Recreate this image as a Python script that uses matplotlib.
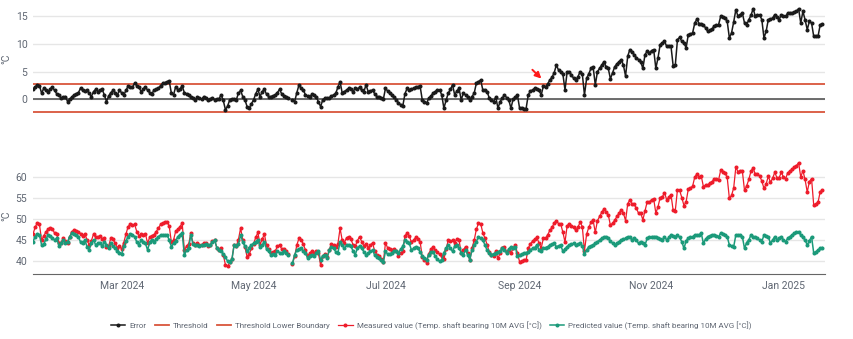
import numpy as np
import pandas as pd
import matplotlib
matplotlib.use('Agg')
import matplotlib.pyplot as plt
import matplotlib.dates as mdates

plt.rcParams['font.family'] = ['Roboto', 'DejaVu Sans']

# daily values, 2024-01-20 .. 2025-01-19
dates = pd.date_range('2024-01-20', periods=366, freq='D')

predicted = np.array([
    44.6, 45.8, 46.5, 46.2, 43.8, 44.0, 45.2, 46.2, 45.9, 45.5,
    45.0, 45.4, 43.6, 44.2, 45.0, 44.3, 44.6, 45.8, 46.6, 46.5,
    46.2, 45.8, 44.5, 44.3, 45.0, 43.4, 42.7, 44.3, 45.0, 43.8,
    44.2, 44.4, 43.5, 44.6, 43.8, 43.0, 44.2, 43.6, 43.0, 42.4,
    42.0, 41.6, 43.6, 44.8, 45.8, 46.4, 46.3, 45.8, 44.5, 43.8,
    45.0, 44.5, 44.2, 42.6, 44.5, 45.0, 44.6, 45.2, 45.8, 46.2,
    46.2, 46.2, 46.2, 45.0, 43.4, 44.2, 44.8, 45.8, 46.3, 46.6,
    41.4, 42.5, 43.2, 46.2, 44.0, 43.8, 43.9, 43.6, 43.9, 43.8,
    44.0, 43.7, 43.8, 44.5, 45.0, 43.2, 42.6, 42.3, 41.6, 41.0,
    39.9, 39.8, 40.4, 43.8, 43.6, 44.0, 46.2, 44.6, 43.5, 42.3,
    43.2, 43.8, 44.2, 44.6, 45.0, 43.4, 43.8, 44.6, 42.8, 42.3,
    41.5, 41.6, 41.5, 42.3, 42.0, 41.9, 42.3, 41.8, 41.5, np.nan,
    39.5, 41.5, 42.6, 42.8, 43.0, 42.3, 41.8, 40.7, 41.3, 41.5,
    41.1, 41.8, 42.3, 40.3, 41.2, 41.5, 40.7, 42.5, 43.4, 43.0,
    42.2, 41.9, 44.6, 43.8, 43.0, 43.8, 43.8, 43.5, 42.4, 41.5,
    43.0, 43.6, 43.0, 42.2, 41.5, 41.8, 42.3, 42.6, 41.4, 41.0,
    40.7, 40.2, 39.7, 42.3, 41.6, 41.7, 41.9, 42.4, 42.4, 41.9,
    42.8, 43.5, 45.0, 44.6, 44.2, 42.6, 43.0, 43.4, 43.0, 42.2,
    41.1, 40.6, 40.3, 41.5, 42.2, 42.2, 41.1, 40.4, 39.9, 40.3,
    42.0, 43.0, 43.8, 43.0, 42.3, 43.5, 43.8, 43.0, 42.0, 41.5,
    42.6, 41.5, 40.3, 42.6, 43.8, 44.6, 45.8, 45.4, 45.0, 43.8,
    42.5, 41.9, 41.5, 41.7, 41.9, 42.2, 42.3, 43.0, 42.6, 41.9,
    42.8, 43.4, 43.0, 43.4, 41.1, 41.4, 41.6, 41.9, 41.9, 42.2,
    42.6, 43.0, 43.2, 43.8, 42.6, 42.3, 43.0, 43.2, 43.4, 43.8,
    44.0, 44.2, 43.4, 43.6, 43.8, 42.3, 42.8, 43.4, 43.8, 44.0,
    44.2, 43.8, 44.0, 44.2, 43.6, 41.6, 42.6, 43.4, 43.6, 43.8,
    44.2, 44.6, 45.0, 45.4, 45.6, 45.8, 45.4, 44.8, 44.2, 43.8,
    44.2, 44.6, 45.0, 45.2, 45.4, 45.8, 45.6, 45.0, 45.4, 45.0,
    44.2, 44.6, 44.2, 43.8, 45.4, 45.6, 45.8, 45.8, 45.8, 45.4,
    45.2, 45.0, 45.8, 45.0, 45.6, 46.2, 46.0, 45.8, 46.2, 45.6,
    44.6, 43.0, 44.8, 45.4, 45.6, 45.8, 46.2, 46.2, 46.2, 46.6,
    44.2, 45.2, 45.8, 46.0, 46.2, 46.2, 46.0, 45.8, 46.6, 46.4,
    46.2, 45.8, 43.8, 43.6, 43.4, 46.2, 46.2, 46.2, 45.8, 43.0,
    44.4, 45.0, 46.2, 45.8, 45.6, 45.4, 45.0, 44.6, 46.2, 46.0,
    45.8, 44.2, 45.0, 45.8, 45.0, 45.4, 45.8, 45.0, 44.6, 45.4,
    45.8, 46.2, 46.6, 46.8, 47.0, 46.2, 45.6, 45.0, 43.8, 44.8,
    45.8, 41.9, 42.2, 42.6, 43.0, 43.2,
])

error = np.array([
    1.8, 2.2, 2.6, 2.5, 1.1, 2.0, 1.7, 1.4, 1.9, 2.2,
    1.6, 1.0, 0.8, 0.2, 0.4, 0.5, -0.4, 0.0, 0.4, 0.8,
    1.0, 1.2, 2.0, 1.7, 1.5, 1.6, 1.1, 0.5, 1.4, 1.8,
    1.4, 1.6, 1.8, 0.8, -0.4, 0.6, 1.2, 1.6, 1.2, 0.8,
    1.6, 1.2, 0.8, 1.6, 2.4, 2.3, 2.2, 2.9, 2.5, 2.2,
    1.4, 1.8, 2.3, 1.6, 1.2, 1.0, 1.7, 1.8, 2.0, 2.5,
    2.9, 3.0, 3.2, 3.3, 1.1, 0.8, 2.3, 1.7, 1.9, 2.4,
    1.2, 1.0, 0.8, 0.4, 0.2, -0.1, 0.4, 0.2, 0.0, 0.5,
    0.3, -0.1, 0.1, 0.2, -0.1, 0.0, 0.1, 0.8, -0.2, -1.9,
    -1.2, -0.1, 0.0, 0.1, -0.1, 1.1, 1.6, 0.5, -0.1, -1.3,
    -1.6, -0.8, -0.1, 1.0, 1.8, 0.5, 1.4, 1.8, 0.9, 0.5,
    0.5, 0.6, 0.8, 1.2, 1.8, 1.0, 0.6, 0.5, 0.2, np.nan,
    -0.1, -0.4, 1.2, 2.6, 2.0, 1.7, 0.8, 0.6, 0.5, 0.9,
    0.7, 0.5, -0.5, -1.3, -0.1, 0.2, 0.2, 0.2, 0.6, 0.8,
    1.1, 2.2, 3.2, 1.1, 1.4, 1.7, 2.0, 1.8, 1.4, 2.0,
    1.8, 2.2, 1.6, 1.4, 2.6, 1.4, 1.5, 1.7, 1.0, 0.5,
    0.5, 0.3, 0.0, 2.0, 1.5, 1.1, 0.8, 0.4, -0.1, -0.6,
    -1.0, -1.2, 1.0, 2.0, 1.7, 1.9, 2.0, 2.2, 2.3, 2.4,
    -0.1, -0.4, -0.7, 0.2, 0.6, 1.1, 1.4, 1.7, 1.7, 0.8,
    -1.6, -0.2, 1.1, 1.8, 2.6, 0.8, 1.5, 2.0, -0.1, 1.1,
    0.8, 0.5, -0.1, 0.5, 1.1, 2.9, 3.2, 3.5, 1.7, 1.6,
    1.4, 0.2, -0.1, -0.4, 0.4, -1.6, -0.4, 0.2, 0.8, 0.3,
    -0.1, -1.6, 0.0, 0.4, 0.8, -1.6, -1.6, -1.7, -1.7, 0.8,
    1.5, 1.7, 2.0, 1.8, 1.6, 0.8, 2.4, 2.3, 2.8, 3.5,
    4.0, 4.8, 6.2, 5.3, 5.0, 4.6, 1.7, 5.0, 5.0, 4.4,
    3.8, 3.5, 4.1, 5.0, 4.6, 0.8, 3.8, 4.6, 5.6, 5.9,
    2.6, 5.0, 5.6, 6.2, 6.8, 5.9, 5.6, 3.7, 4.8, 5.9,
    6.4, 6.8, 7.2, 6.2, 4.2, 7.8, 9.0, 8.5, 8.1, 7.5,
    7.2, 6.8, 5.6, 8.1, 8.7, 8.4, 8.8, 9.0, 5.6, 7.5,
    9.9, 10.2, 10.5, 9.6, 9.6, 9.6, 6.1, 6.2, 10.8, 11.2,
    10.5, 10.2, 9.3, 11.7, 11.8, 12.0, 13.8, 14.5, 13.7, 13.6,
    13.5, 12.9, 12.3, 12.5, 12.7, 13.3, 13.4, 13.5, 15.0, 14.8,
    14.7, 14.1, 11.1, 12.0, 14.0, 16.2, 15.0, 15.3, 15.6, 13.8,
    13.5, 14.4, 15.2, 16.4, 15.0, 15.2, 15.3, 14.4, 11.1, 12.3,
    14.4, 14.5, 14.7, 15.3, 14.8, 14.4, 15.3, 15.0, 15.0, 15.6,
    15.6, 15.6, 15.8, 15.9, 16.4, 13.8, 15.9, 14.4, 12.6, 14.1,
    13.8, 11.4, 11.4, 11.4, 13.5, 13.6,
])

measured = predicted + error

threshold = 2.7
threshold_lower = -2.3

labels = ['Error', 'Threshold', 'Threshold Lower Boundary',
          'Measured value (Temp. shaft bearing 10M AVG [°C])',
          'Predicted value (Temp. shaft bearing 10M AVG [°C])']

c_err = '#1a1a1a'
c_thr = '#d9553c'
c_meas = '#ee1c2b'
c_pred = '#1b9a7a'
c_grid = '#e6e6e6'
c_text = '#5f6672'

fig = plt.figure(figsize=(8.54, 3.39), dpi=100)
ax1 = fig.add_axes([0.0386, 0.658, 0.9274, 0.3345])
ax2 = fig.add_axes([0.0386, 0.1917, 0.9274, 0.342])

x0 = mdates.date2num(dates[0])
xlim = (x0, x0 + 366.2)

for ax in (ax1, ax2):
    ax.set_xlim(xlim)
    for s in ax.spines.values():
        s.set_visible(False)
    ax.grid(axis='y', color=c_grid, lw=1)
    ax.set_axisbelow(True)
    ax.tick_params(axis='y', length=0, labelsize=7.5, labelcolor=c_text, pad=4)
    ax.set_ylabel('°C', fontsize=7.5, color=c_text, labelpad=3)

# top: error
ax1.set_ylim(-3.0, 17.5)
ax1.set_yticks([0, 5, 10, 15])
ax1.set_xticks([])
ax1.axhline(0, color='#555555', lw=1.2, zorder=1)
h_thr = ax1.axhline(threshold, color=c_thr, lw=1.3, zorder=2)
h_low = ax1.axhline(threshold_lower, color=c_thr, lw=1.3, zorder=2)
h_err, = ax1.plot(dates, error, color=c_err, lw=1.1, marker='o', ms=1.9, zorder=3)
ax1.annotate('', xy=(mdates.date2num(dates[236]), 3.4),
             xytext=(mdates.date2num(dates[230]), 5.7),
             arrowprops=dict(arrowstyle='-|>', color='#ff1a1a', lw=1.4, mutation_scale=9))

# bottom: measured vs predicted
ax2.set_ylim(36.9, 64.5)
ax2.set_yticks([40, 45, 50, 55, 60])
ax2.spines['bottom'].set_visible(True)
ax2.spines['bottom'].set_color('#666666')
h_meas, = ax2.plot(dates, measured, color=c_meas, lw=0.9, marker='o', ms=1.9, zorder=3)
h_pred, = ax2.plot(dates, predicted, color=c_pred, lw=1.1, marker='o', ms=1.9, zorder=4)
ax2.xaxis.set_major_locator(mdates.MonthLocator(bymonth=[1, 3, 5, 7, 9, 11]))
ax2.xaxis.set_major_formatter(mdates.DateFormatter('%b %Y'))
ax2.tick_params(axis='x', length=0, labelsize=7.5, labelcolor=c_text, pad=5)

fig.legend([h_err, h_thr, h_low, h_meas, h_pred], labels, loc='center',
           bbox_to_anchor=(0.505, 0.04), ncol=5, frameon=False, fontsize=5.8,
           handlelength=1.8, handletextpad=0.5, columnspacing=1.0, labelcolor=c_text)

fig.savefig('out.png', dpi=100)
